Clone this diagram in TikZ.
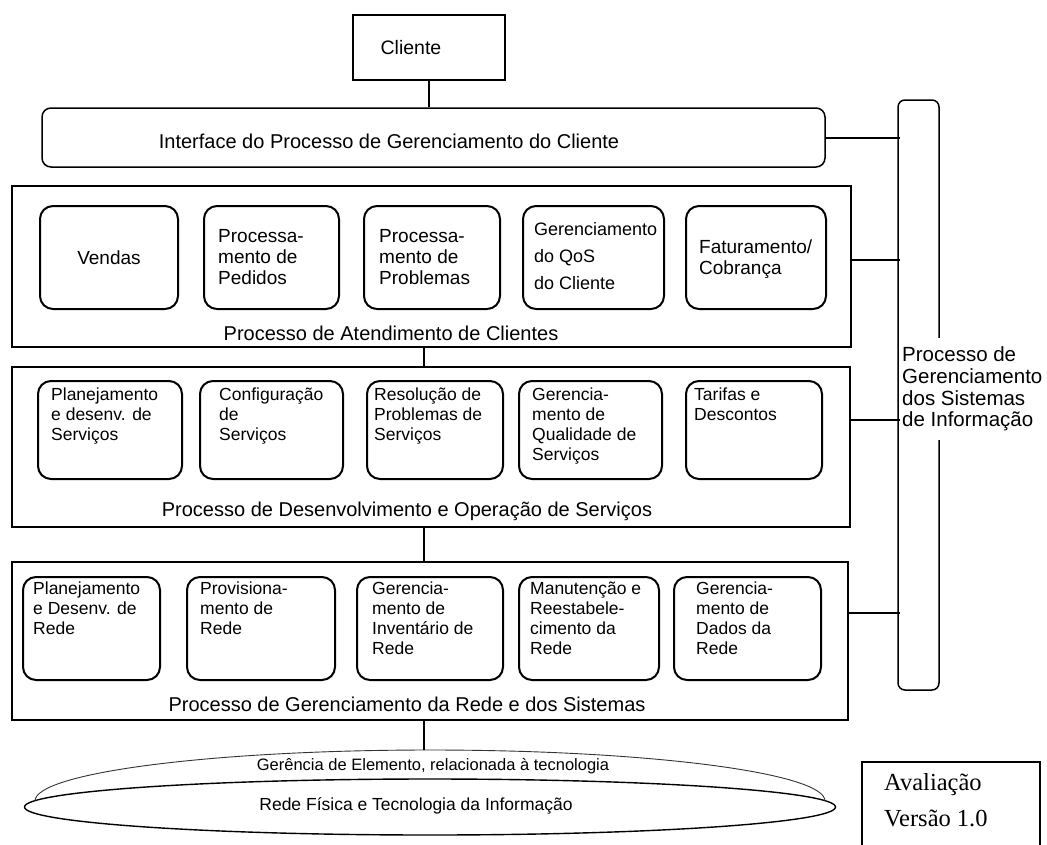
\documentclass[tikz,border=0pt]{standalone}
\usepackage{fontspec}
\setmainfont{Liberation Sans}
\newfontfamily\serifface{Liberation Serif}
\usetikzlibrary{shapes.geometric,calc}

\begin{document}
\begin{tikzpicture}[x=1pt,y=-1pt,
  frame/.style={draw, line width=1.5pt, inner sep=0pt},
  proc/.style={draw, line width=2pt, rounded corners=13pt, inner sep=0pt},
  link/.style={line width=1.4pt},
  lblA/.style={inner sep=0pt, align=left, font=\fontsize{19}{21}\selectfont},
  lblQ/.style={inner sep=0pt, align=left, font=\fontsize{18}{27}\selectfont},
  lbl/.style={inner sep=0pt, align=left, anchor=north west, font=\fontsize{17.5}{19.8}\selectfont},
  title/.style={inner sep=0pt, font=\fontsize{20}{24}\selectfont}]

\fill[white] (0,0) rectangle (1047,844);
\useasboundingbox (0,0) rectangle (1047,844);

% ---- customer and its interface ----
\node[frame, minimum width=152pt, minimum height=65pt] (cl) at (429,47.5) {};
\node[inner sep=0pt, font=\fontsize{19.5}{22}\selectfont] (clT) at (411,48) {Cliente};

\node[frame, rounded corners=9pt, minimum width=783pt, minimum height=59pt] (iface) at (433.5,137.5) {};
\node[title] (ifaceT) at (389,141) {Interface do Processo de Gerenciamento do Cliente};

% ---- information systems management bar ----
\node[frame, rounded corners=7pt, minimum width=41pt, minimum height=590pt] (bar) at (918.5,395) {};
\node[inner xsep=0pt, inner ysep=9pt, fill=white, anchor=west, align=left,
      font=\fontsize{20.5}{21.7}\selectfont] (barT) at (902,389)
      {Processo de\\Gerenciamento\\dos Sistemas\\de Informação};

% ---- customer care layer ----
\node[frame, minimum width=839pt, minimum height=161pt] (atend) at (431.5,266.5) {};
\node[proc, minimum width=138pt, minimum height=103pt] (vendas) at (109,257.5) {};
\node[lblA] (vendasT) at (vendas) {Vendas};
\node[proc, minimum width=135pt, minimum height=103pt] (pedidos) at (271.5,257.5) {};
\node[lblA, anchor=west] (pedidosT) at ($(pedidos.west)+(15,0)$) {Processa-\\mento de\\Pedidos};
\node[proc, minimum width=136pt, minimum height=103pt] (probl) at (432,257.5) {};
\node[lblA, anchor=west] (problT) at ($(probl.west)+(16,0)$) {Processa-\\mento de\\Problemas};
\node[proc, minimum width=141pt, minimum height=103pt] (qos) at (593.5,257.5) {};
\node[lblQ, anchor=west] (qosT) at ($(qos.west)+(12,-1)$) {Gerenciamento\\do QoS\\do Cliente};
\node[proc, minimum width=140pt, minimum height=103pt] (fat) at (756,257.5) {};
\node[lblA, anchor=west] (fatT) at ($(fat.west)+(14,2)$) {Faturamento/\\Cobrança};
\node[title] (atendT) at (391,333) {Processo de Atendimento de Clientes};

% ---- service development and operation layer ----
\node[frame, minimum width=838pt, minimum height=160pt] (desenv) at (431,447) {};
\node[proc, minimum width=144pt, minimum height=98pt] (planS) at (110,430) {};
\node[lbl] (planST) at ($(planS.north west)+(14,8)$) {Planejamento\\e desenv. de\\Serviços};
\node[proc, minimum width=143pt, minimum height=98pt] (conf) at (271.5,430) {};
\node[lbl] (confT) at ($(conf.north west)+(20,8)$) {Configuração\\de\\Serviços};
\node[proc, minimum width=136pt, minimum height=98pt] (resol) at (435,430) {};
\node[lbl] (resolT) at ($(resol.north west)+(8,8)$) {Resolução de\\Problemas de\\Serviços};
\node[proc, minimum width=143pt, minimum height=98pt] (qual) at (590.5,430) {};
\node[lbl] (qualT) at ($(qual.north west)+(14,8)$) {Gerencia-\\mento de\\Qualidade de\\Serviços};
\node[proc, minimum width=136pt, minimum height=98pt] (tarif) at (754,430) {};
\node[lbl] (tarifT) at ($(tarif.north west)+(9,8)$) {Tarifas e\\Descontos};
\node[title] (desenvT) at (407,511) {Processo de Desenvolvimento e Operação de Serviços};

% ---- network and systems management layer ----
\node[frame, minimum width=836pt, minimum height=158pt] (rede) at (430,641) {};
\node[proc, minimum width=137pt, minimum height=103pt] (planR) at (91.5,628.5) {};
\node[lbl] (planRT) at ($(planR.north west)+(11,6)$) {Planejamento\\e Desenv. de\\Rede};
\node[proc, minimum width=148pt, minimum height=103pt] (prov) at (261,628.5) {};
\node[lbl] (provT) at ($(prov.north west)+(14,6)$) {Provisiona-\\mento de\\Rede};
\node[proc, minimum width=146pt, minimum height=103pt] (inv) at (430,628.5) {};
\node[lbl] (invT) at ($(inv.north west)+(16,6)$) {Gerencia-\\mento de\\Inventário de\\Rede};
\node[proc, minimum width=140pt, minimum height=103pt] (manut) at (589,628.5) {};
\node[lbl] (manutT) at ($(manut.north west)+(12,6)$) {Manutenção e\\Reestabele-\\cimento da\\Rede};
\node[proc, minimum width=147pt, minimum height=103pt] (dados) at (747.5,628.5) {};
\node[lbl] (dadosT) at ($(dados.north west)+(23,6)$) {Gerencia-\\mento de\\Dados da\\Rede};
\node[title] (redeT) at (407,704) {Processo de Gerenciamento da Rede e dos Sistemas};

% ---- physical network and element management ----
\node[draw, ellipse, line width=1.4pt, minimum width=811pt, minimum height=56pt, inner sep=0pt] (phys) at (430,807) {};
\draw[line width=0.9pt, black!80] (35,801) arc[start angle=180, end angle=0, x radius=395pt, y radius=51pt];
\coordinate (elem) at (424,750.1);
\node[inner sep=0pt, font=\fontsize{16.5}{20}\selectfont] (elemT) at (433,766) {Gerência de Elemento, relacionada à tecnologia};
\node[inner sep=0pt, font=\fontsize{17.5}{20}\selectfont] (physT) at (416,806) {Rede Física e Tecnologia da Informação};

% ---- version stamp ----
\node[frame, minimum width=178pt, minimum height=98pt] (ver) at (951,811) {};
\node[inner sep=0pt, anchor=north west, align=left, font=\serifface\fontsize{24.5}{36}\selectfont] (verT) at (884,773) {Avaliação\\Versão 1.0};

% ---- connectors ----
\coordinate (sp) at (424,0);
\coordinate (jI) at (900,138);
\coordinate (jA) at (900,260);
\coordinate (jD) at (900,420);
\coordinate (jR) at (900,613);
\draw[link] (cl.south) -- (iface.north -| cl.south);
\draw[link] (atend.south -| sp) -- (desenv.north -| sp);
\draw[link] (desenv.south -| sp) -- (rede.north -| sp);
\draw[link] (rede.south -| sp) -- (elem);
\draw[link] (iface.east |- jI) -- (jI);
\draw[link] (atend.east |- jA) -- (jA);
\draw[link] (desenv.east |- jD) -- (jD);
\draw[link] (rede.east |- jR) -- (jR);
\end{tikzpicture}
\end{document}
